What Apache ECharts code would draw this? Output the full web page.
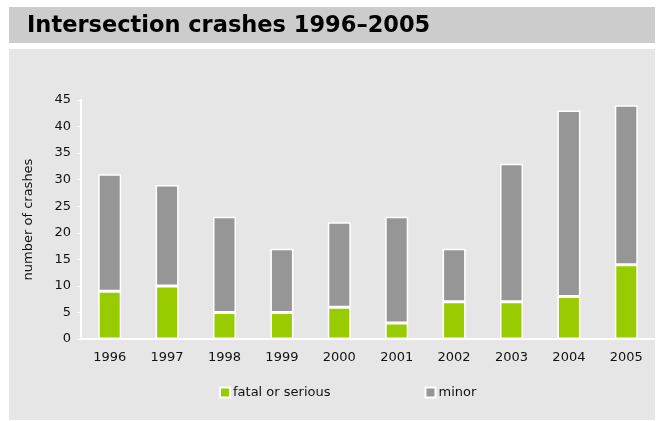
<!DOCTYPE html>
<html>
<head>
<meta charset="utf-8">
<script src="https://cdn.jsdelivr.net/npm/echarts@6/dist/echarts.min.js"></script>
<style>
  html, body { margin: 0; padding: 0; background: #fff; }
  #main { width: 659px; height: 421px; }
</style>
</head>
<body>
<div id="main"></div>
<script>
// data
var years = ['1996', '1997', '1998', '1999', '2000', '2001', '2002', '2003', '2004', '2005'];
var fatalSerious = [9, 10, 5, 5, 6, 3, 7, 7, 8, 14];
var minor = [22, 19, 18, 12, 16, 20, 10, 26, 35, 30];
var yTicks = [0, 5, 10, 15, 20, 25, 30, 35, 40, 45];

var font = 'DejaVu Sans, Verdana, sans-serif';
var chart = echarts.init(document.getElementById('main'));

var option = {
    backgroundColor: '#ffffff',
    animation: false,
    graphic: [
        { type: 'rect', left: 9, top: 7, shape: { width: 646, height: 36 }, style: { fill: '#cccccc' }, z: -10 },
        { type: 'rect', left: 9, top: 49, shape: { width: 646, height: 371 }, style: { fill: '#e6e6e6' }, z: -10 }
    ],
    title: {
        text: 'Intersection crashes 1996\u20132005',
        left: 22,
        top: 10,
        textStyle: { fontFamily: font, fontSize: 22.5, fontWeight: 'bold', color: '#000' }
    },
    legend: {
        data: [
            { name: 'fatal or serious', icon: 'rect' },
            { name: 'minor', icon: 'rect' }
        ],
        left: 214,
        top: 381,
        itemWidth: 10,
        itemHeight: 10,
        itemGap: 94,
        textStyle: { fontFamily: font, fontSize: 13, color: '#111', padding: [0, 0, 0, -2] }
    },
    grid: { left: 81, right: 4, top: 100, bottom: 82, containLabel: false },
    xAxis: {
        type: 'category',
        data: years,
        axisLine: { lineStyle: { color: '#ffffff', width: 2 } },
        axisTick: { show: false },
        axisLabel: { fontFamily: font, fontSize: 13, color: '#111', margin: 12 }
    },
    yAxis: {
        type: 'value',
        min: yTicks[0],
        max: yTicks[yTicks.length - 1],
        interval: 5,
        name: 'number of crashes',
        nameLocation: 'middle',
        nameGap: 46,
        nameTextStyle: { fontFamily: font, fontSize: 13, color: '#111' },
        axisLine: { show: true, lineStyle: { color: '#ffffff', width: 2 } },
        axisTick: { show: true, length: 4, lineStyle: { color: '#ffffff', width: 1 } },
        splitLine: { show: false },
        axisLabel: { fontFamily: font, fontSize: 13, color: '#111', margin: 10 }
    },
    series: [
        {
            name: 'fatal or serious',
            type: 'bar',
            stack: 'total',
            data: fatalSerious,
            barWidth: 23,
            itemStyle: { color: '#99cc00', borderColor: '#ffffff', borderWidth: 1.5 }
        },
        {
            name: 'minor',
            type: 'bar',
            stack: 'total',
            data: minor,
            barWidth: 23,
            itemStyle: { color: '#969696', borderColor: '#ffffff', borderWidth: 1.5 }
        }
    ]
};

chart.setOption(option);
</script>
</body>
</html>
